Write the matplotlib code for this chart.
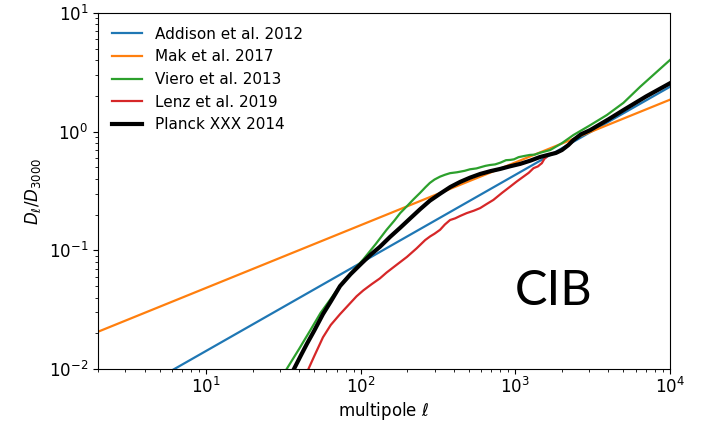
import matplotlib
matplotlib.use("Agg")
import matplotlib.pyplot as plt

# Data
addison_ell = [2, 10000]
addison_D = [0.0043, 2.39]

mak_ell = [2, 10000]
mak_D = [0.0206, 1.86]

viero_ell = [30, 33.2, 40, 47, 55, 64, 74, 88, 104, 125, 147, 165, 180, 200, 220, 242, 262, 280,
             300, 326, 350, 378, 420, 470, 509, 560, 600, 640, 687, 740, 800, 870, 925, 980,
             1050, 1150, 1245, 1330, 1450, 1679, 2000, 2374, 3000, 3902, 5000, 6412, 10000]
viero_D = [0.0078, 0.010, 0.0148, 0.021, 0.0297, 0.039, 0.051, 0.066, 0.084, 0.113, 0.149,
           0.178, 0.206, 0.237, 0.27, 0.305, 0.34, 0.37, 0.395, 0.418, 0.433, 0.447, 0.455,
           0.468, 0.482, 0.49, 0.503, 0.515, 0.524, 0.53, 0.548, 0.575, 0.578, 0.585, 0.61,
           0.625, 0.637, 0.64, 0.665, 0.70, 0.80, 0.937, 1.12, 1.38, 1.75, 2.39, 4.02]

lenz_ell = [44, 45.9, 50, 57, 64, 73.5, 84, 94, 104, 118, 133, 147, 165, 199, 230, 261, 281,
            300, 326, 350, 378, 408, 440, 485, 540, 592, 650, 721, 820, 925, 1020, 1128, 1220,
            1309, 1400, 1450, 1483, 1540, 1596]
lenz_D = [0.0085, 0.010, 0.0128, 0.0185, 0.0235, 0.029, 0.035, 0.041, 0.046, 0.052, 0.058,
          0.065, 0.073, 0.088, 0.104, 0.122, 0.131, 0.138, 0.149, 0.165, 0.180, 0.186, 0.195,
          0.206, 0.216, 0.227, 0.245, 0.266, 0.305, 0.344, 0.38, 0.418, 0.45, 0.492, 0.51,
          0.53, 0.542, 0.59, 0.616]

planck_ell = [33, 37, 41, 45, 50, 57, 64, 73.5, 86, 101.6, 116, 133, 155, 180, 210, 242, 280,
              326, 380, 439, 510, 592, 690, 797, 920, 1073, 1250, 1445, 1650, 1830, 2000, 2200,
              2374, 2657, 3043, 4000, 5000, 7000, 10000]
planck_D = [0.0076, 0.0100, 0.0130, 0.0164, 0.021, 0.029, 0.037, 0.050, 0.063, 0.078, 0.092,
            0.107, 0.130, 0.155, 0.187, 0.222, 0.262, 0.300, 0.342, 0.377, 0.41, 0.44, 0.465,
            0.485, 0.51, 0.535, 0.57, 0.612, 0.64, 0.662, 0.70, 0.77, 0.85, 0.95, 1.03, 1.27,
            1.52, 1.98, 2.56]

fig = plt.figure(figsize=(7.06, 4.22), dpi=100)
ax = fig.add_axes([98/706, 1 - 369/422, (670 - 98)/706, (369 - 13)/422])

ax.plot(addison_ell, addison_D, color="#1f77b4", lw=1.6, label="Addison et al. 2012")
ax.plot(mak_ell, mak_D, color="#ff7f0e", lw=1.6, label="Mak et al. 2017")
ax.plot(viero_ell, viero_D, color="#2ca02c", lw=1.6, label="Viero et al. 2013")
ax.plot(lenz_ell, lenz_D, color="#d62728", lw=1.6, label="Lenz et al. 2019")
ax.plot(planck_ell, planck_D, color="black", lw=3, label="Planck XXX 2014")

ax.set_xscale("log")
ax.set_yscale("log")
ax.set_xlim(2, 1e4)
ax.set_ylim(1e-2, 1e1)
ax.tick_params(labelsize=12)
ax.tick_params(axis="x", pad=2.5)
ax.set_xlabel(r"multipole $\ell$", fontsize=12, labelpad=1.5)
ax.set_ylabel(r"$D_\ell/D_{3000}$", fontsize=12)

ax.legend(loc="upper left", frameon=False, fontsize=11)
ax.text(0.797, 0.18, "CIB", transform=ax.transAxes, ha="center", va="baseline",
        fontsize=35, family="Lato")

fig.savefig("out.png", dpi=100)
